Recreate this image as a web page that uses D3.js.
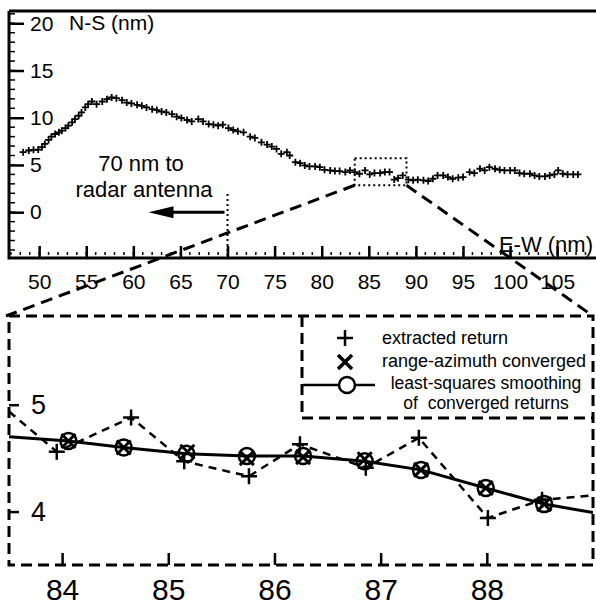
<!DOCTYPE html>
<html>
<head>
<meta charset="utf-8">
<script src="https://cdn.jsdelivr.net/npm/d3@7"></script>
<style>
  body { margin: 0; background: #fff; }
  svg { display: block; font-family: "Liberation Sans", Arial, Helvetica, sans-serif; }
  .tick line { stroke: #000; }
  .tick text { fill: #000; }
</style>
</head>
<body>
<svg id="chart" width="596" height="609"></svg>
<script>
// DATA: top panel (track of extracted returns, nm)
const topX = [48.3, 48.9, 49.4, 49.9, 50.3, 50.6, 51.0, 51.3, 51.7, 52.1, 52.4, 52.8, 53.1, 53.5, 53.8,
  54.2, 54.5, 54.9, 55.2, 55.6, 56.1, 56.7, 57.2, 57.7, 58.2, 58.8, 59.3, 59.8, 60.4, 60.9, 61.4, 62.0,
  62.5, 63.0, 63.5, 64.1, 64.6, 65.1, 65.7, 66.2, 66.9, 67.4, 68.0, 68.5, 69.0, 69.5, 70.1, 70.6, 71.1,
  71.7, 72.4, 72.9, 73.6, 74.2, 74.7, 75.2, 75.7, 76.3, 76.6, 77.2, 77.7, 78.2, 78.7, 79.3, 79.8, 80.3,
  80.9, 81.4, 81.9, 82.5, 83.0, 83.5, 84.0, 84.6, 85.1, 85.6, 86.2, 86.7, 87.2, 87.7, 88.1, 88.6, 89.2,
  89.7, 90.2, 90.8, 91.3, 91.8, 92.3, 92.9, 93.4, 93.9, 94.5, 95.0, 95.7, 96.2, 96.8, 97.3, 97.8, 98.4,
  98.9, 99.4, 100.0, 100.5, 101.0, 101.5, 102.1, 102.6, 103.1, 103.7, 104.2, 104.7, 105.1, 105.6, 106.1,
  106.7, 107.2];
const topY = [6.35, 6.53, 6.60, 6.63, 6.88, 7.23, 7.65, 8.00, 8.28, 8.46, 8.63, 8.91, 9.16, 9.51, 9.86,
  10.21, 10.56, 11.09, 11.44, 11.72, 11.44, 11.72, 11.96, 12.14, 12.07, 11.86, 11.61, 11.51, 11.37, 11.26,
  11.09, 10.91, 10.81, 10.66, 10.56, 10.39, 10.11, 9.97, 9.76, 9.61, 9.86, 9.61, 9.33, 9.26, 9.16, 9.26,
  8.91, 8.70, 8.56, 8.46, 8.00, 7.86, 7.40, 7.16, 6.95, 6.70, 6.18, 6.35, 6.00, 5.30, 5.19, 4.95, 4.84,
  4.84, 4.77, 4.49, 4.42, 4.35, 4.35, 4.25, 4.42, 4.25, 4.07, 4.42, 4.00, 4.14, 4.14, 4.25, 4.25, 3.45,
  3.60, 3.89, 3.44, 3.37, 3.44, 3.37, 3.30, 3.54, 3.89, 3.89, 3.72, 3.54, 3.65, 3.72, 4.25, 4.14, 4.60,
  4.42, 4.77, 4.60, 4.49, 4.42, 4.42, 4.42, 4.14, 4.07, 4.07, 3.89, 3.79, 3.79, 3.89, 4.00, 4.42, 4.07,
  4.00, 4.00, 4.00];
const topXTicks = [50, 55, 60, 65, 70, 75, 80, 85, 90, 95, 100, 105];
const topYTicks = [0, 5, 10, 15, 20];

// zoom window shown in the lower panel
const zoomBoxX = [83.5, 89.0];
const zoomBoxY = [2.85, 5.7];

// DATA: bottom panel (zoom)
const extractedX = [83.40, 83.95, 84.65, 85.15, 85.76, 86.24, 86.86, 87.36, 88.01, 88.52, 89.10];
const extractedY = [5.02, 4.56, 4.88, 4.47, 4.33, 4.63, 4.41, 4.69, 3.94, 4.11, 4.16];
const convergedX = [84.06, 84.58, 85.18, 85.74, 86.27, 86.85, 87.38, 87.99, 88.54];
const convergedY = [4.66, 4.60, 4.56, 4.50, 4.51, 4.49, 4.39, 4.22, 4.07];
const smoothX = [84.06, 84.58, 85.17, 85.74, 86.27, 86.85, 87.38, 87.99, 88.54];
const smoothY = [4.66, 4.60, 4.54, 4.52, 4.52, 4.47, 4.39, 4.22, 4.07];
const smoothLineX = [83.5, ...smoothX, 89.0];
const smoothLineY = [4.70, ...smoothY, 3.99];
const botXTicks = [84, 85, 86, 87, 88];
const botYTicks = [4, 5];

const legendItems = ["extracted return", "range-azimuth converged", "least-squares smoothing", "of  converged returns"];

// SETUP
const svg = d3.select("#chart");
const topBox = { left: 9, right: 593, top: 11, bottom: 258 };
const botBox = { left: 9, right: 593, top: 316, bottom: 565 };

const xTop = d3.scaleLinear().domain([46.8, 108.8]).range([topBox.left, topBox.right]);
const yTop = d3.scaleLinear().domain([-4.85, 21.3]).range([topBox.bottom, topBox.top]);
const xBot = d3.scaleLinear().domain([83.5, 89.0]).range([botBox.left, botBox.right]);
const yBot = d3.scaleLinear().domain([3.5, 5.83]).range([botBox.bottom, botBox.top]);

const plusPath = s => `M${-s},0H${s}M0,${-s}V${s}`;
const crossPath = s => `M${-s},${-s}L${s},${s}M${-s},${s}L${s},${-s}`;

/* ===================== TOP PANEL ===================== */
const gTop = svg.append("g");

// frame lines (top border, left and bottom axes)
gTop.append("path")
  .attr("d", `M${topBox.left},${topBox.top}H596M${topBox.left},${topBox.top}V${topBox.bottom}H596`)
  .attr("fill", "none").attr("stroke", "#000").attr("stroke-width", 3);

// minor ticks
gTop.append("g").selectAll("line")
  .data(d3.range(-4, 22))
  .join("line")
  .attr("x1", topBox.left).attr("x2", topBox.left + 6)
  .attr("y1", d => yTop(d)).attr("y2", d => yTop(d))
  .attr("stroke", "#000").attr("stroke-width", 1.5);

gTop.append("g").selectAll("line")
  .data(d3.range(47, 109))
  .join("line")
  .attr("x1", d => xTop(d)).attr("x2", d => xTop(d))
  .attr("y1", topBox.bottom - 6).attr("y2", topBox.bottom - 3)
  .attr("stroke", "#000").attr("stroke-width", 1.5);

// y axis (inside, labels right)
const yAxisTop = gTop.append("g")
  .attr("transform", `translate(${topBox.left},0)`)
  .call(d3.axisRight(yTop).tickValues(topYTicks).tickSize(15).tickPadding(6)
    .tickFormat(d3.format("d")));
yAxisTop.select(".domain").remove();
yAxisTop.selectAll(".tick line").attr("stroke-width", 2.5);
yAxisTop.selectAll(".tick text").attr("font-size", 21).attr("font-family", "Liberation Sans, Arial");

// x axis (ticks up, labels below)
const xAxisTop = gTop.append("g")
  .attr("transform", `translate(0,${topBox.bottom})`)
  .call(d3.axisBottom(xTop).tickValues(topXTicks).tickSize(-12).tickPadding(16)
    .tickFormat(d3.format("d")));
xAxisTop.select(".domain").remove();
xAxisTop.selectAll(".tick line").attr("stroke-width", 2.5);
xAxisTop.selectAll(".tick text").attr("font-size", 21).attr("font-family", "Liberation Sans, Arial");

// axis titles
gTop.append("text").attr("x", 69).attr("y", 30)
  .attr("font-size", 21).text("N-S (nm)");
gTop.append("text").attr("x", 593).attr("y", 252)
  .attr("text-anchor", "end").attr("font-size", 22).text("E-W (nm)");

// data points
gTop.append("g").selectAll("path")
  .data(topX.map((x, i) => ({ x, y: topY[i] })))
  .join("path")
  .attr("transform", d => `translate(${xTop(d.x)},${yTop(d.y)})`)
  .attr("d", plusPath(3.5))
  .attr("stroke", "#000").attr("stroke-width", 1.8);

// dotted zoom box
gTop.append("rect")
  .attr("x", xTop(zoomBoxX[0])).attr("y", yTop(zoomBoxY[1]))
  .attr("width", xTop(zoomBoxX[1]) - xTop(zoomBoxX[0]))
  .attr("height", yTop(zoomBoxY[0]) - yTop(zoomBoxY[1]))
  .attr("fill", "none").attr("stroke", "#000").attr("stroke-width", 2)
  .attr("stroke-dasharray", "2,3");

// annotation: 70 nm to radar antenna
gTop.append("text").attr("x", 141).attr("y", 171)
  .attr("text-anchor", "middle").attr("font-size", 22).text("70 nm to");
gTop.append("text").attr("x", 144).attr("y", 197)
  .attr("text-anchor", "middle").attr("font-size", 22).text("radar antenna");
gTop.append("line")
  .attr("x1", xTop(70)).attr("x2", xTop(70))
  .attr("y1", 194).attr("y2", topBox.bottom)
  .attr("stroke", "#000").attr("stroke-width", 2).attr("stroke-dasharray", "2,3");
gTop.append("line")
  .attr("x1", xTop(70) - 3).attr("x2", xTop(70) - 55)
  .attr("y1", yTop(0)).attr("y2", yTop(0))
  .attr("stroke", "#000").attr("stroke-width", 3);
gTop.append("path")
  .attr("d", `M${xTop(70) - 79},${yTop(0)}L${xTop(70) - 54},${yTop(0) - 6}L${xTop(70) - 54},${yTop(0) + 6}Z`)
  .attr("fill", "#000");

/* ===================== CONNECTOR LINES ===================== */
svg.append("path")
  .attr("d", `M${xTop(zoomBoxX[0])},${yTop(zoomBoxY[0])}L${botBox.left - 3},${botBox.top}` +
             `M${xTop(zoomBoxX[1])},${yTop(zoomBoxY[0])}L${botBox.right},${botBox.top}`)
  .attr("fill", "none").attr("stroke", "#000").attr("stroke-width", 3)
  .attr("stroke-dasharray", "12,7");

/* ===================== BOTTOM PANEL ===================== */
const gBot = svg.append("g");

svg.append("clipPath").attr("id", "clipBot")
  .append("rect").attr("x", botBox.left).attr("y", botBox.top)
  .attr("width", botBox.right - botBox.left).attr("height", botBox.bottom - botBox.top);

// dashed frame
gBot.append("rect")
  .attr("x", botBox.left).attr("y", botBox.top)
  .attr("width", botBox.right - botBox.left).attr("height", botBox.bottom - botBox.top)
  .attr("fill", "none").attr("stroke", "#000").attr("stroke-width", 3)
  .attr("stroke-dasharray", "11,6");

const xAxisBot = gBot.append("g")
  .attr("transform", `translate(0,${botBox.bottom})`)
  .call(d3.axisBottom(xBot).tickValues(botXTicks).tickSize(-12).tickPadding(14)
    .tickFormat(d3.format("d")));
xAxisBot.select(".domain").remove();
xAxisBot.selectAll(".tick line").attr("stroke-width", 2.5);
xAxisBot.selectAll(".tick text").attr("font-size", 30).attr("font-family", "Liberation Sans, Arial");

const yAxisBot = gBot.append("g")
  .attr("transform", `translate(${botBox.left},0)`)
  .call(d3.axisRight(yBot).tickValues(botYTicks).tickSize(10).tickPadding(12)
    .tickFormat(d3.format("d")));
yAxisBot.select(".domain").remove();
yAxisBot.selectAll(".tick line").attr("stroke-width", 2.5);
yAxisBot.selectAll(".tick text").attr("font-size", 27).attr("font-family", "Liberation Sans, Arial");

const plot = gBot.append("g").attr("clip-path", "url(#clipBot)");

// extracted returns, dashed
const extracted = extractedX.map((x, i) => ({ x, y: extractedY[i] }));
plot.append("path")
  .datum(extracted)
  .attr("d", d3.line().x(d => xBot(d.x)).y(d => yBot(d.y)))
  .attr("fill", "none").attr("stroke", "#000").attr("stroke-width", 2.5)
  .attr("stroke-dasharray", "8,6");

// least-squares smoothing, solid
plot.append("path")
  .datum(smoothLineX.map((x, i) => ({ x, y: smoothLineY[i] })))
  .attr("d", d3.line().x(d => xBot(d.x)).y(d => yBot(d.y)))
  .attr("fill", "none").attr("stroke", "#000").attr("stroke-width", 3);

plot.append("g").selectAll("path")
  .data(extracted)
  .join("path")
  .attr("transform", d => `translate(${xBot(d.x)},${yBot(d.y)})`)
  .attr("d", plusPath(8))
  .attr("stroke", "#000").attr("stroke-width", 2.5);

plot.append("g").selectAll("path")
  .data(convergedX.map((x, i) => ({ x, y: convergedY[i] })))
  .join("path")
  .attr("transform", d => `translate(${xBot(d.x)},${yBot(d.y)})`)
  .attr("d", crossPath(7))
  .attr("stroke", "#000").attr("stroke-width", 3);

plot.append("g").selectAll("circle")
  .data(smoothX.map((x, i) => ({ x, y: smoothY[i] })))
  .join("circle")
  .attr("cx", d => xBot(d.x)).attr("cy", d => yBot(d.y)).attr("r", 8)
  .attr("fill", "none").attr("stroke", "#000").attr("stroke-width", 2.5);

// legend
const lg = gBot.append("g");
lg.append("path")
  .attr("d", `M302,${botBox.top}V418H${botBox.right}`)
  .attr("fill", "none").attr("stroke", "#000").attr("stroke-width", 3)
  .attr("stroke-dasharray", "11,6");
lg.append("path").attr("transform", "translate(345,338)")
  .attr("d", plusPath(8)).attr("stroke", "#000").attr("stroke-width", 2.5);
lg.append("path").attr("transform", "translate(345,362)")
  .attr("d", crossPath(7)).attr("stroke", "#000").attr("stroke-width", 3.5);
lg.append("line").attr("x1", 303).attr("x2", 375).attr("y1", 385).attr("y2", 385)
  .attr("stroke", "#000").attr("stroke-width", 2.5);
lg.append("circle").attr("cx", 347).attr("cy", 385).attr("r", 8)
  .attr("fill", "#fff").attr("stroke", "#000").attr("stroke-width", 2.5);
lg.selectAll("text")
  .data(legendItems)
  .join("text")
  .attr("x", (d, i) => i < 2 ? 382 : 486)
  .attr("y", (d, i) => [344, 367, 389, 409][i])
  .attr("text-anchor", (d, i) => i < 2 ? "start" : "middle")
  .attr("font-size", (d, i) => i < 2 ? 18 : 17.5)
  .attr("xml:space", "preserve")
  .style("white-space", "pre")
  .text(d => d);
</script>
</body>
</html>
